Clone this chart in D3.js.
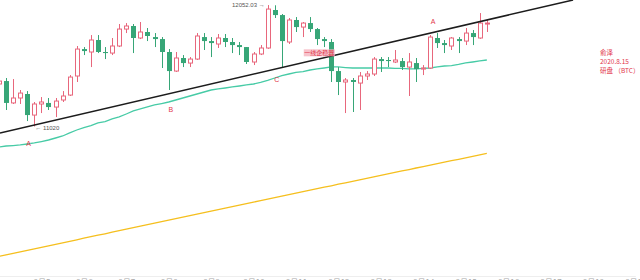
<!DOCTYPE html>
<html>
<head>
<meta charset="utf-8">
<script src="https://cdn.jsdelivr.net/npm/d3@7/dist/d3.min.js"></script>
<style>
    body { margin: 0; background: #fff; }
    svg { display: block; }
</style>
</head>
<body>
<script>
// 4h candles, BTC, up to 2020.8.15
var open = [11381, 11406, 11220, 11262, 11296, 11117, 11211, 11220, 11185, 11245,
    11287, 11449, 11678, 11653, 11755, 11653, 11644, 11704, 11848, 11874,
    11772, 11823, 11780, 11763, 11653, 11491, 11602, 11559, 11593, 11780,
    11746, 11721, 11772, 11738, 11712, 11695, 11568, 11636, 11687, 12010,
    11967, 11738, 11925, 11865, 11899, 11848, 11763, 11738, 11491, 11398,
    11415, 11389, 11449, 11466, 11593, 11585, 11568, 11576, 11525, 11559,
    11508, 11517, 11772, 11729, 11704, 11763, 11746, 11814, 11772, 11891];

var close = [11406, 11220, 11262, 11304, 11117, 11211, 11228, 11185, 11236, 11279,
    11440, 11678, 11661, 11755, 11653, 11644, 11704, 11848, 11874, 11772,
    11823, 11789, 11763, 11653, 11491, 11602, 11559, 11593, 11789, 11746,
    11729, 11772, 11738, 11712, 11695, 11568, 11636, 11687, 12018, 11967,
    11746, 11925, 11865, 11899, 11848, 11763, 11746, 11491, 11398, 11415,
    11398, 11449, 11466, 11593, 11576, 11576, 11585, 11525, 11568, 11508,
    11517, 11780, 11729, 11712, 11772, 11746, 11814, 11780, 11899, 11899];

var high = [11423, 11432, 11423, 11330, 11321, 11228, 11270, 11262, 11262, 11321,
    11457, 11704, 11695, 11797, 11797, 11695, 11772, 11891, 11899, 11891,
    11908, 11857, 11814, 11780, 11678, 11653, 11627, 11610, 11814, 11814,
    11780, 11806, 11806, 11772, 11738, 11695, 11653, 11712, 12052.03, 12050,
    11976, 11942, 11950, 11908, 11950, 11857, 11780, 11763, 11525, 11432,
    11432, 11483, 11491, 11610, 11610, 11610, 11670, 11602, 11644, 11602,
    11542, 11797, 11814, 11755, 11780, 11780, 11857, 11840, 11984, 11925];

var low = [11372, 11160, 11211, 11211, 11066, 11020, 11134, 11160, 11100, 11228,
    11279, 11398, 11627, 11525, 11644, 11593, 11627, 11695, 11814, 11644,
    11763, 11746, 11695, 11517, 11330, 11483, 11525, 11525, 11585, 11670,
    11610, 11687, 11695, 11644, 11627, 11551, 11542, 11627, 11680, 11942,
    11517, 11721, 11823, 11780, 11823, 11712, 11695, 11398, 11287, 11134,
    11143, 11160, 11415, 11449, 11483, 11525, 11559, 11500, 11279, 11398,
    11457, 11510, 11687, 11644, 11670, 11644, 11712, 11712, 11765, 11823];

// short moving average (teal)
var maShort = [10846, 10854, 10858, 10863, 10871, 10880, 10892, 10905, 10922, 10939,
    10965, 10990, 11011, 11028, 11050, 11062, 11084, 11101, 11126, 11152,
    11169, 11186, 11203, 11215, 11228, 11245, 11262, 11279, 11296, 11313,
    11330, 11339, 11347, 11356, 11364, 11373, 11381, 11394, 11411, 11432,
    11453, 11466, 11479, 11487, 11500, 11509, 11517, 11526, 11526, 11521,
    11517, 11517, 11517, 11517, 11517, 11517, 11513, 11513, 11509, 11509,
    11513, 11517, 11526, 11534, 11538, 11547, 11560, 11568, 11577, 11585];

// long moving average (yellow)
var maLong = [9916, 9929, 9941, 9954, 9967, 9980, 9993, 10006, 10018, 10031,
    10044, 10057, 10070, 10083, 10096, 10108, 10121, 10134, 10147, 10160,
    10173, 10185, 10198, 10211, 10224, 10237, 10249, 10262, 10275, 10288,
    10300, 10313, 10326, 10339, 10351, 10364, 10377, 10390, 10402, 10415,
    10428, 10440, 10453, 10466, 10478, 10491, 10504, 10516, 10529, 10541,
    10554, 10567, 10579, 10592, 10604, 10617, 10629, 10642, 10654, 10667,
    10679, 10692, 10704, 10717, 10729, 10741, 10754, 10766, 10779, 10791];

// x axis: one tick every 6 candles (1 day)
var tickIndex = [6, 12, 18, 24, 30, 36, 42, 48, 54, 60, 66, 72, 78, 84, 90];
var tickLabels = ["8月5", "8月6", "8月7", "8月8", "8月9", "8月10", "8月11", "8月12",
    "8月13", "8月14", "8月15", "8月16", "8月17", "8月18", "8月19"];

// trend line endpoints [candle index, price]
var trendIndex = [0.14, 81.2];
var trendPrice = [10965, 12095];

// letters & notes [text, index, price]
var marks = [["A", 4.2, 10871], ["B", 24.3, 11160], ["C", 39.3, 11415], ["A", 61.4, 11916]];
var noteText = "一线企稳器";
var noteIndex = 45.3, notePrice = 11646;
var sideNotes = ["俞泽", "2020.8.15", "研盘 （BTC）"];

var w = 640, h = 280;
var red = "#e8677c", green = "#37a677", letterRed = "#e2364b";

var svg = d3.select('body').append('svg')
    .attr('width', w)
    .attr('height', h);

var x = d3.scaleLinear().domain([0, 90]).range([-1, 635.3]);
var y = d3.scaleLinear().domain([9715, 12095]).range([280, 0]);

var candles = d3.range(open.length).map(function (i) {
    return {i: i, o: open[i], c: close[i], h: high[i], l: low[i]};
});

// axis at the bottom (labels get cut by the frame)
var axis = svg.append('g')
    .attr('transform', 'translate(0,276)')
    .call(d3.axisBottom(x).tickValues(tickIndex)
        .tickFormat(function (d, k) { return tickLabels[k]; })
        .tickSize(0).tickPadding(3));
axis.select('.domain').attr('stroke', '#eeeeee');
axis.selectAll('text')
    .attr('fill', '#aaaaaa')
    .style('font-family', '"Noto Sans CJK SC", sans-serif')
    .style('font-size', '8px');

var line = d3.line()
    .x(function (d, i) { return x(i); })
    .y(function (d) { return y(d); });

svg.append('path')
    .attr('d', line(maLong))
    .attr('fill', 'none')
    .attr('stroke', '#f5bf1e')
    .attr('stroke-width', 1.3);

svg.append('path')
    .attr('d', line(maShort))
    .attr('fill', 'none')
    .attr('stroke', '#47cba6')
    .attr('stroke-width', 1.3);

// candles
var g = svg.selectAll('.candle')
    .data(candles)
    .enter()
    .append('g')
    .attr('class', 'candle');

g.append('line')
    .attr('x1', function (d) { return Math.round(x(d.i)) + 0.5; })
    .attr('x2', function (d) { return Math.round(x(d.i)) + 0.5; })
    .attr('y1', function (d) { return y(d.h); })
    .attr('y2', function (d) { return y(d.l); })
    .attr('stroke', function (d) { return d.c >= d.o ? red : green; })
    .attr('stroke-width', 1);

g.append('rect')
    .attr('x', function (d) { return Math.round(x(d.i)) - (d.c >= d.o ? 1.5 : 2); })
    .attr('width', function (d) { return d.c >= d.o ? 4 : 5; })
    .attr('y', function (d) { return y(Math.max(d.o, d.c)); })
    .attr('height', function (d) { return Math.max(1, y(Math.min(d.o, d.c)) - y(Math.max(d.o, d.c))); })
    .attr('fill', function (d) { return d.c >= d.o ? '#ffffff' : green; })
    .attr('stroke', function (d) { return d.c >= d.o ? red : 'none'; })
    .attr('stroke-width', 1);

// trend line
svg.append('line')
    .attr('x1', x(trendIndex[0])).attr('y1', y(trendPrice[0]))
    .attr('x2', x(trendIndex[1])).attr('y2', y(trendPrice[1]))
    .attr('stroke', '#1c1c1c')
    .attr('stroke-width', 1.5);

// high / low labels
var hiIdx = high.indexOf(d3.max(high)), loIdx = low.indexOf(d3.min(low));
svg.append('text')
    .attr('x', x(hiIdx) - 3).attr('y', y(high[hiIdx]))
    .attr('dy', '0.35em')
    .attr('text-anchor', 'end')
    .attr('fill', '#555')
    .style('font-family', '"Liberation Sans", sans-serif')
    .style('font-size', '6px')
    .text(d3.format('.2f')(high[hiIdx]) + ' →');
svg.append('text')
    .attr('x', x(loIdx) + 1).attr('y', y(low[loIdx]) + 1)
    .attr('dy', '0.35em')
    .attr('fill', '#555')
    .style('font-family', '"Liberation Sans", sans-serif')
    .style('font-size', '6px')
    .text('← ' + low[loIdx]);

// A B C A
svg.selectAll('.mark')
    .data(marks)
    .enter()
    .append('text')
    .attr('class', 'mark')
    .attr('x', function (d) { return x(d[1]); })
    .attr('y', function (d) { return y(d[2]); })
    .attr('dy', '0.35em')
    .attr('text-anchor', 'middle')
    .attr('fill', letterRed)
    .style('font-family', '"Liberation Sans", sans-serif')
    .style('font-size', '7px')
    .text(function (d) { return d[0]; });

// note on the line
var note = svg.append('g')
    .attr('transform', 'translate(' + x(noteIndex) + ',' + y(notePrice) + ')');
note.append('rect')
    .attr('x', -15.5).attr('y', -3.5)
    .attr('width', 31).attr('height', 7)
    .attr('fill', '#f6b9c3')
    .attr('opacity', 0.85);
note.append('text')
    .attr('text-anchor', 'middle')
    .attr('dy', '0.35em')
    .attr('fill', letterRed)
    .style('font-family', '"Noto Sans CJK SC", sans-serif')
    .style('font-size', '6px')
    .text(noteText);

// side notes
svg.selectAll('.side')
    .data(sideNotes)
    .enter()
    .append('text')
    .attr('class', 'side')
    .attr('x', 600)
    .attr('y', function (d, i) { return 53 + i * 9; })
    .attr('dy', '0.35em')
    .attr('fill', letterRed)
    .style('font-family', '"Noto Sans CJK SC", sans-serif')
    .style('font-size', '6.5px')
    .text(function (d) { return d; });
</script>
</body>
</html>
